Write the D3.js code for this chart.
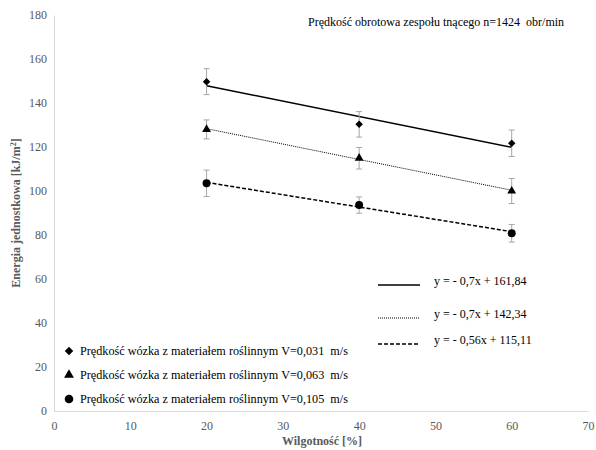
<!DOCTYPE html>
<html>
<head>
<meta charset="utf-8">
<script src="https://cdn.jsdelivr.net/npm/d3@7"></script>
<style>
    body { margin: 0; background: #fff; }
</style>
</head>
<body>
<div id="chart-area"></div>
<script>
// Data
var moisture = [20, 40, 60];
var xTicks = [0, 10, 20, 30, 40, 50, 60, 70];
var yTicks = [0, 20, 40, 60, 80, 100, 120, 140, 160, 180];

var energyV031 = [149.7, 130.3, 121.7];
var errorV031  = [5.9, 5.8, 6.0];
var energyV063 = [128.0, 114.9, 100.0];
var errorV063  = [4.3, 4.9, 5.7];
var energyV105 = [103.5, 93.6, 80.8];
var errorV105  = [6.0, 3.7, 4.0];

var seriesNames = [
    "Prędkość wózka z materiałem roślinnym V=0,031\u00a0 m/s",
    "Prędkość wózka z materiałem roślinnym V=0,063\u00a0 m/s",
    "Prędkość wózka z materiałem roślinnym V=0,105\u00a0 m/s"
];

// trend lines y = a*x + b
var trendSlopes = [-0.7, -0.7, -0.56];
var trendIntercepts = [161.84, 142.34, 115.11];
var trendLabels = ["y = - 0,7x + 161,84", "y = - 0,7x + 142,34", "y = - 0,56x + 115,11"];

var titleText = "Prędkość obrotowa zespołu tnącego n=1424\u00a0 obr/min";

var makeVis = function() {

    var width = 596, height = 450;
    var font = "'Liberation Serif', 'Times New Roman', serif";
    var svg = d3.select("#chart-area")
        .append("svg")
        .attr("width", width)
        .attr("height", height)
        .attr("font-family", font);

    // scales
    var xScale = d3.scaleLinear().domain([0, 70]).range([54, 588]);
    var yScale = d3.scaleLinear().domain([0, 180]).range([411, 15]);

    var gray = "#595959";

    // axes (no tick marks, Excel style)
    var xAxis = d3.axisBottom(xScale).tickValues(xTicks).tickSize(0).tickPadding(10);
    var yAxis = d3.axisLeft(yScale).tickValues(yTicks).tickSize(0).tickPadding(7);

    var gx = svg.append("g")
        .attr("class", "x axis")
        .attr("transform", "translate(0," + yScale(0) + ")")
        .call(xAxis);
    var gy = svg.append("g")
        .attr("class", "y axis")
        .attr("transform", "translate(" + xScale(0) + ",0)")
        .call(yAxis);

    [gx, gy].forEach(function(g) {
        g.attr("font-family", font).attr("font-size", 12);
        g.select(".domain").attr("stroke", "#d9d9d9").attr("stroke-width", 1);
        g.selectAll("text").attr("fill", gray);
    });

    // axis titles
    svg.append("text")
        .attr("x", 322)
        .attr("y", 445)
        .attr("text-anchor", "middle")
        .attr("fill", gray)
        .attr("font-size", 12)
        .attr("font-weight", "bold")
        .text("Wilgotność [%]");

    var yTitle = svg.append("text")
        .attr("transform", "translate(20,213) rotate(-90)")
        .attr("text-anchor", "middle")
        .attr("fill", gray)
        .attr("font-size", 12)
        .attr("font-weight", "bold");
    yTitle.append("tspan").text("Energia jednostkowa [kJ/m");
    yTitle.append("tspan").attr("dy", -4).attr("font-size", 8).text("2");
    yTitle.append("tspan").attr("dy", 4).text("]");

    // chart title
    svg.append("text")
        .attr("x", 308)
        .attr("y", 26)
        .attr("fill", "#000")
        .attr("font-size", 12)
        .text(titleText);

    var energies = [energyV031, energyV063, energyV105];
    var errors = [errorV031, errorV063, errorV105];
    var dashes = [null, "1,1", "4,2"];
    var widths = [1.5, 1, 1.5];
    var symbols = [d3.symbolSquare, d3.symbolTriangle, d3.symbolCircle];
    var symbolSizes = [28, 34, 50];
    var rotations = [45, 0, 0];

    // trend lines
    var line = d3.line()
        .x(function(d) { return xScale(d[0]); })
        .y(function(d) { return yScale(d[1]); });

    trendSlopes.forEach(function(a, i) {
        var b = trendIntercepts[i];
        var ends = [moisture[0], moisture[moisture.length - 1]].map(function(x) {
            return [x, a * x + b];
        });
        svg.append("path")
            .attr("d", line(ends))
            .attr("fill", "none")
            .attr("stroke", "#000")
            .attr("stroke-width", widths[i])
            .attr("stroke-dasharray", dashes[i]);
    });

    // error bars
    energies.forEach(function(vals, i) {
        var g = svg.append("g").attr("class", "err");
        vals.forEach(function(v, j) {
            var x = xScale(moisture[j]);
            var y1 = yScale(v + errors[i][j]), y2 = yScale(v - errors[i][j]);
            g.append("line").attr("x1", x).attr("x2", x).attr("y1", y1).attr("y2", y2);
            g.append("line").attr("x1", x - 3).attr("x2", x + 3).attr("y1", y1).attr("y2", y1);
            g.append("line").attr("x1", x - 3).attr("x2", x + 3).attr("y1", y2).attr("y2", y2);
        });
        g.selectAll("line").attr("stroke", "#a6a6a6").attr("stroke-width", 1);
    });

    // markers
    energies.forEach(function(vals, i) {
        svg.selectAll(".pt" + i)
            .data(vals)
            .enter()
            .append("path")
            .attr("class", "pt" + i)
            .attr("d", d3.symbol().type(symbols[i]).size(symbolSizes[i]))
            .attr("transform", function(d, j) {
                return "translate(" + xScale(moisture[j]) + "," + yScale(d) + ") rotate(" + rotations[i] + ")";
            })
            .attr("fill", "#000");
    });

    // legend, markers (bottom left)
    var legendRows = [351, 375, 399];
    seriesNames.forEach(function(name, i) {
        svg.append("path")
            .attr("d", d3.symbol().type(symbols[i]).size(symbolSizes[i] + 8))
            .attr("transform", "translate(69," + legendRows[i] + ") rotate(" + rotations[i] + ")")
            .attr("fill", "#000");
        svg.append("text")
            .attr("x", 80)
            .attr("y", legendRows[i] + 4)
            .attr("fill", "#000")
            .attr("font-size", 12.2)
            .text(name);
    });

    // legend, trend lines (right)
    var trendRows = [285, 318, 344];
    trendLabels.forEach(function(label, i) {
        svg.append("line")
            .attr("x1", 378).attr("x2", 420)
            .attr("y1", trendRows[i]).attr("y2", trendRows[i])
            .attr("stroke", "#000")
            .attr("stroke-width", widths[i])
            .attr("stroke-dasharray", dashes[i]);
        svg.append("text")
            .attr("x", 434)
            .attr("y", trendRows[i])
            .attr("fill", "#000")
            .attr("font-size", 12)
            .text(label);
    });
};

makeVis();
</script>
</body>
</html>
